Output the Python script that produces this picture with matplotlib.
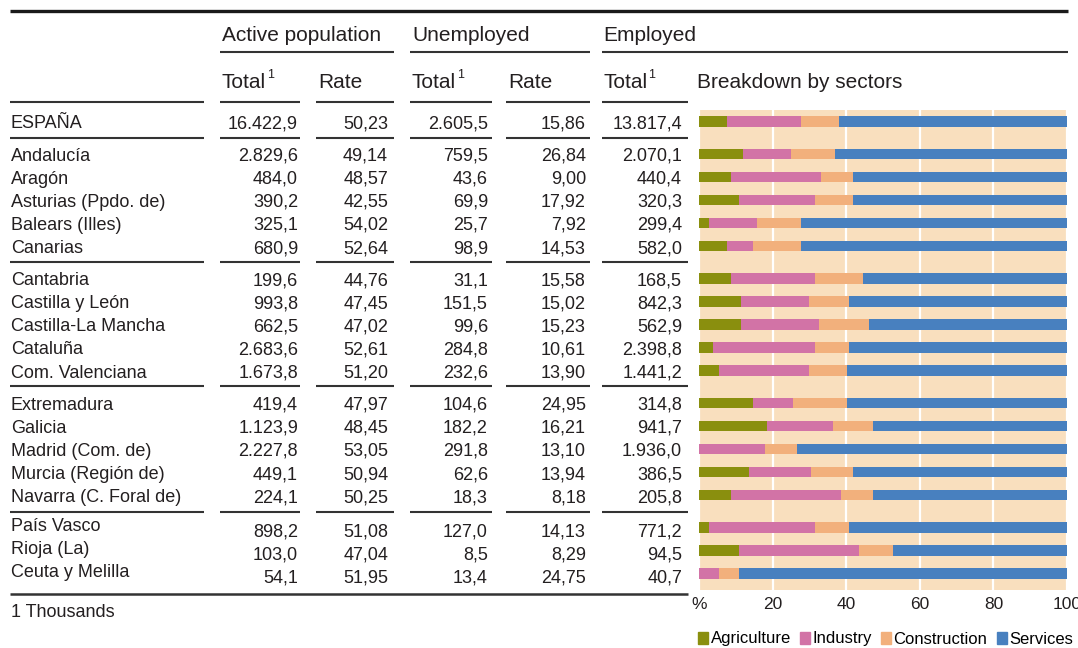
import matplotlib.pyplot as plt
from matplotlib.patches import Patch

plt.rcParams["font.family"] = ["Liberation Sans", "DejaVu Sans"]

# ---- data ----
regions = ["ESPAÑA",
           "Andalucía", "Aragón", "Asturias (Ppdo. de)", "Balears (Illes)", "Canarias",
           "Cantabria", "Castilla y León", "Castilla-La Mancha", "Cataluña", "Com. Valenciana",
           "Extremadura", "Galicia", "Madrid (Com. de)", "Murcia (Región de)", "Navarra (C. Foral de)",
           "País Vasco", "Rioja (La)", "Ceuta y Melilla"]
group = [0, 1, 1, 1, 1, 1, 2, 2, 2, 2, 2, 3, 3, 3, 3, 3, 4, 4, 4]

active_total = [16422.9, 2829.6, 484.0, 390.2, 325.1, 680.9, 199.6, 993.8, 662.5, 2683.6,
                1673.8, 419.4, 1123.9, 2227.8, 449.1, 224.1, 898.2, 103.0, 54.1]
active_rate = [50.23, 49.14, 48.57, 42.55, 54.02, 52.64, 44.76, 47.45, 47.02, 52.61,
               51.20, 47.97, 48.45, 53.05, 50.94, 50.25, 51.08, 47.04, 51.95]
unemp_total = [2605.5, 759.5, 43.6, 69.9, 25.7, 98.9, 31.1, 151.5, 99.6, 284.8,
               232.6, 104.6, 182.2, 291.8, 62.6, 18.3, 127.0, 8.5, 13.4]
unemp_rate = [15.86, 26.84, 9.00, 17.92, 7.92, 14.53, 15.58, 15.02, 15.23, 10.61,
              13.90, 24.95, 16.21, 13.10, 13.94, 8.18, 14.13, 8.29, 24.75]
employed_total = [13817.4, 2070.1, 440.4, 320.3, 299.4, 582.0, 168.5, 842.3, 562.9, 2398.8,
                  1441.2, 314.8, 941.7, 1936.0, 386.5, 205.8, 771.2, 94.5, 40.7]

# sector shares of employment (%)
agriculture = [7.6, 12.0, 8.7, 10.9, 2.7, 7.6, 8.7, 11.4, 11.4, 3.8,
               5.4, 14.7, 18.5, 0.0, 13.6, 8.7, 2.7, 10.9, 0.0]
industry = [20.1, 13.0, 24.5, 20.6, 13.1, 7.1, 22.8, 18.5, 21.2, 27.7,
            24.5, 10.8, 17.9, 17.9, 16.8, 29.9, 28.8, 32.6, 5.4]
construction = [10.3, 12.0, 8.6, 10.3, 11.9, 13.0, 13.1, 10.9, 13.6, 9.3,
                10.3, 14.7, 10.9, 8.7, 11.4, 8.7, 9.3, 9.2, 5.5]
services = [62.0, 63.0, 58.2, 58.2, 72.3, 72.3, 55.4, 59.2, 53.8, 59.2,
            59.8, 59.8, 52.7, 73.4, 58.2, 52.7, 59.2, 47.3, 89.1]

sectors = ["Agriculture", "Industry", "Construction", "Services"]
sector_colors = ["#8A8F0E", "#D273A6", "#F2B07C", "#4880BF"]
xticks = [0, 20, 40, 60, 80, 100]
xtick_labels = ["%", "20", "40", "60", "80", "100"]


def es(v, nd):
    s = f"{v:,.{nd}f}"
    return s.replace(",", "X").replace(".", ",").replace("X", ".")


W, H = 1078, 648
TXT = "#231F20"
LINE = "#333333"

fig = plt.figure(figsize=(W / 100, H / 100), dpi=100)
ax = fig.add_axes([0, 0, 1, 1])
ax.set_xlim(0, W)
ax.set_ylim(H, 0)
ax.axis("off")

# row positions (pixels), with a gap between groups
ys = [121.5 + 23.06 * (i + 0.4 * g) for i, g in enumerate(group)]
dy = 2.5  # text sits a bit low in its row

# header
ax.plot([10, 1068], [11, 11], color="#1a1a1a", lw=2.4, solid_capstyle="butt")
for x, t in [(222, "Active population"), (412, "Unemployed"), (603, "Employed")]:
    ax.text(x, 33 + dy, t, fontsize=15, color=TXT, va="center", ha="left")
for x0, x1 in [(220, 394), (410, 590), (602, 1068)]:
    ax.plot([x0, x1], [52, 52], color=LINE, lw=1.5, solid_capstyle="butt")
for x, t in [(222, "Total"), (318, "Rate"), (412, "Total"), (508, "Rate"),
             (603, "Total"), (697, "Breakdown by sectors")]:
    tt = ax.text(x, 80 + dy, t, fontsize=15, color=TXT, va="center", ha="left")
    if t == "Total":
        ax.annotate("1", xy=(1, 0.92), xycoords=tt, xytext=(1, 0), textcoords="offset points",
                    fontsize=9, color=TXT, va="center", ha="left")
ax.text(697, 80 + dy, "", fontsize=15)

segments = [(10, 204), (220, 300), (316, 394), (410, 492), (506, 590), (602, 688)]
for yl in [102, 138, 262, 386, 512]:
    for x0, x1 in segments:
        ax.plot([x0, x1], [yl, yl], color=LINE, lw=1.5, solid_capstyle="butt")
ax.plot([10, 688], [594, 594], color=LINE, lw=1.8, solid_capstyle="butt")

col_right = [298, 388, 488, 586, 682]
for i, name in enumerate(regions):
    dn = -3.5 if group[i] == 4 else 0
    dv = 2.5 if group[i] == 4 else 0
    ax.text(11, ys[i] + dn + dy, name, fontsize=13, color=TXT, va="center", ha="left")
    vals = [es(active_total[i], 1), es(active_rate[i], 2), es(unemp_total[i], 1),
            es(unemp_rate[i], 2), es(employed_total[i], 1)]
    for xr, v in zip(col_right, vals):
        ax.text(xr, ys[i] + dv + dy, v, fontsize=13, color=TXT, va="center", ha="right")

ax.text(11, 610 + dy, "1 Thousands", fontsize=13, color=TXT, va="center", ha="left")

# stacked bars
bx = fig.add_axes([699 / W, 1 - 590 / H, (1067 - 699) / W, (590 - 110) / H])
bx.set_facecolor("#F9DFBE")
bx.set_xlim(0, 100)
bx.set_ylim(590, 110)
left = [0.0] * len(regions)
for name, vals, c in zip(sectors, [agriculture, industry, construction, services], sector_colors):
    bx.barh(ys, vals, left=left, height=10.5, color=c, linewidth=0)
    left = [l + v for l, v in zip(left, vals)]
bx.set_axisbelow(True)
bx.grid(axis="x", color="white", lw=1.6)
bx.grid(axis="y", visible=False)
bx.set_xticks(xticks)
bx.set_xticklabels(xtick_labels, fontsize=12.5, color=TXT)
bx.set_yticks([])
bx.tick_params(axis="x", length=0, pad=5)
for s in bx.spines.values():
    s.set_visible(False)

handles = [Patch(color=c, label=s) for s, c in zip(sectors, sector_colors)]
fig.legend(handles=handles, loc="center left", bbox_to_anchor=(698 / W, 1 - 639 / H),
           ncol=4, frameon=False, fontsize=12, handlelength=0.6, handleheight=0.75,
           handletextpad=0.15, columnspacing=0.55, borderpad=0, borderaxespad=0)

fig.savefig("out.png", dpi=100)
